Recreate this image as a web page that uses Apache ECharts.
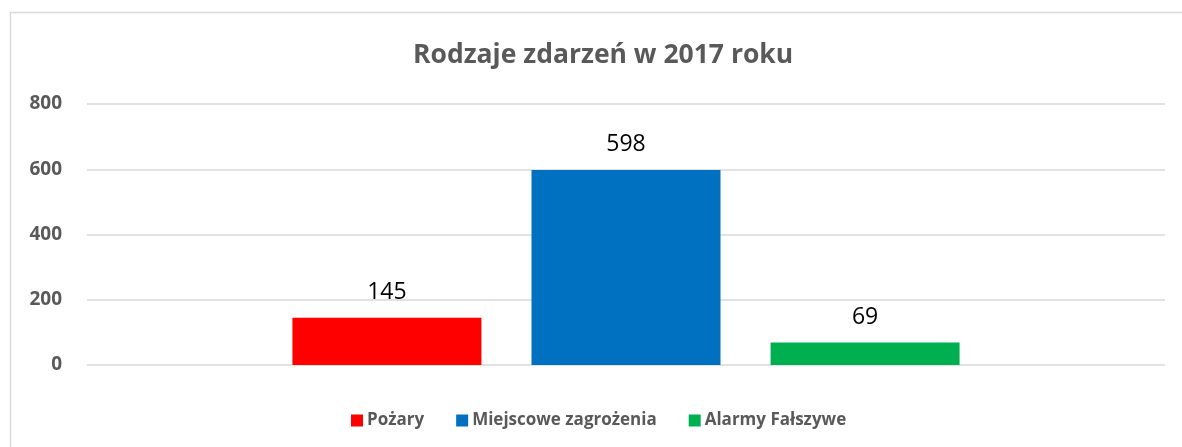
<!DOCTYPE html>
<html><head><meta charset="utf-8">
<script src="https://cdn.jsdelivr.net/npm/echarts@6/dist/echarts.min.js"></script>
<style>html,body{margin:0;padding:0;background:#fff}#c{width:1182px;height:447px}</style>
</head><body><div id="c"></div>
<script>
const categories = ['2017'];
const seriesNames = ['Pożary', 'Miejscowe zagrożenia', 'Alarmy Fałszywe'];
const pozary = [145];
const miejscowe = [598];
const alarmy = [69];
const colors = ['#FF0000', '#0070C0', '#00B050'];
const values = [pozary, miejscowe, alarmy];

const chart = echarts.init(document.getElementById('c'));
const font = "'Open Sans', 'Liberation Sans', sans-serif";
chart.setOption({
  animation: false,
  title: {
    text: 'Rodzaje zdarzeń w 2017 roku',
    left: 408, top: 37,
    textStyle: { fontFamily: font, fontWeight: 'bold', fontSize: 26.5, color: '#595959' }
  },
  graphic: [{
    type: 'rect', shape: { x: 10.5, y: 12.5, width: 1200, height: 500 },
    style: { fill: 'none', stroke: '#d9d9d9', lineWidth: 1.5 }, silent: true
  }],
  legend: {
    bottom: 13, left: 346, itemGap: 32, itemWidth: 12, itemHeight: 12,
    icon: 'rect',
    textStyle: { fontFamily: font, fontWeight: 'bold', fontSize: 17, color: '#595959', padding: [0, 0, 0, -1] },
    data: seriesNames
  },
  grid: { left: 87, right: 17, top: 104, bottom: 82, containLabel: false },
  xAxis: {
    type: 'category', data: categories,
    axisLine: { show: false }, axisTick: { show: false }, axisLabel: { show: false }
  },
  yAxis: {
    type: 'value', min: 0, max: 800, interval: 200,
    axisLine: { show: false }, axisTick: { show: false },
    axisLabel: { fontFamily: font, fontWeight: 'bold', fontSize: 19, color: '#595959', margin: 25 },
    splitLine: { lineStyle: { color: '#d9d9d9', width: 1.5 } }
  },
  series: seriesNames.map((n, i) => ({
    name: n, type: 'bar', data: values[i], barWidth: 189, barGap: '26.5%',
    itemStyle: { color: colors[i] },
    label: { show: true, position: 'top', distance: 14, fontFamily: font, fontSize: 23, color: '#000' }
  }))
});
</script></body></html>
